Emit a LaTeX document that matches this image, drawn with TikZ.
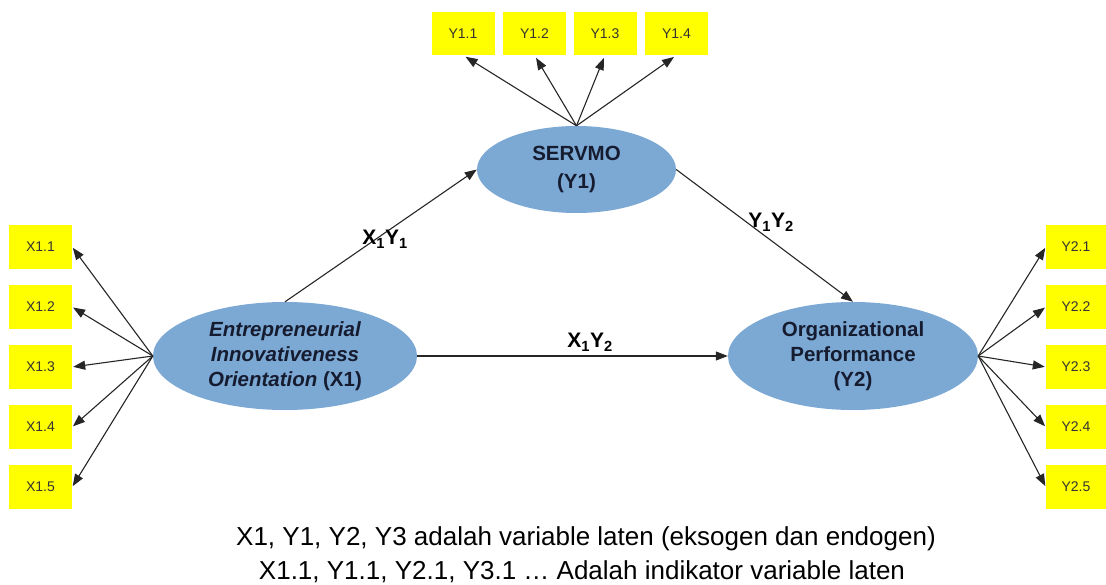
\documentclass[tikz,border=0pt]{standalone}
\usepackage{fontspec}
\setmainfont{Liberation Sans}
\usetikzlibrary{shapes.geometric,arrows.meta}
\definecolor{ellblue}{RGB}{124,168,212}
\definecolor{indyel}{RGB}{255,255,0}
\definecolor{elltext}{RGB}{22,28,48}
\begin{document}
\begin{tikzpicture}[x=1pt,y=-1pt,
  ind/.style={fill=indyel, minimum width=63pt, minimum height=44pt, inner sep=0pt,
    font=\fontsize{14}{16}\selectfont, text=black!80},
  lat/.style={ellipse, fill=ellblue, inner sep=0pt, align=center, text=elltext,
    font=\fontsize{20.5}{25}\selectfont\bfseries},
  arr/.style={-{Triangle[length=12pt,width=9pt]}, line width=1.1pt, draw=black!85, shorten >=1pt},
  pathlbl/.style={font=\fontsize{21}{24}\selectfont\bfseries, anchor=base, inner sep=0pt},
  note/.style={font=\fontsize{26}{30}\selectfont, anchor=base, inner sep=0pt}]
\useasboundingbox (0,0) rectangle (1106,585);

% latent variables
\node[lat, minimum width=264pt, minimum height=108pt] (x1) at (285,356)
  {\itshape Entrepreneurial\\ \itshape Innovativeness\\ {\itshape Orientation} (X1)};
\node[lat, minimum width=199pt, minimum height=87pt, font=\fontsize{20.5}{28}\selectfont\bfseries] (srv) at (576.5,169.5)
  {SERVMO\\(Y1)};
\node[lat, minimum width=250pt, minimum height=108pt] (y2) at (853,356)
  {Organizational\\Performance\\(Y2)};

% indicators X1
\foreach \i/\yy in {1/247,2/307,3/367,4/427,5/487}
  \node[ind] (xb\i) at (40.5,\yy) {X1.\i};
% indicators Y1
\foreach \i/\xx in {1/463,2/534.5,3/605,4/676.5}
  \node[ind, minimum height=43pt] (yb\i) at (\xx,33.5) {Y1.\i};
% indicators Y2
\foreach \i/\yy in {1/247,2/307,3/367,4/427,5/487}
  \node[ind, minimum width=60pt] (zb\i) at (1076,\yy) {Y2.\i};

% indicator arrows
\foreach \i in {1,...,5} \draw[arr] (x1.west) -- (xb\i.east);
\foreach \i in {1,...,4} \draw[arr, shorten >=3pt] (srv.north) -- (yb\i.south);
\foreach \i in {1,...,5} \draw[arr] (y2.east) -- (zb\i.west);

% structural paths
\draw[arr, shorten >=0pt] (x1.north) -- (srv.west);
\draw[arr, shorten >=0pt] (srv.east) -- (y2.north);
\draw[arr, shorten >=0pt] (x1.east) -- (y2.west);

% path labels
\node[pathlbl] (l1) at (385,245) {X\textsubscript{1}Y\textsubscript{1}};
\node[pathlbl] (l2) at (590,348) {X\textsubscript{1}Y\textsubscript{2}};
\node[pathlbl] (l3) at (771,228) {Y\textsubscript{1}Y\textsubscript{2}};

% notes
\node[note] (n1) at (586,545) {X1, Y1, Y2, Y3 adalah variable laten (eksogen dan endogen)};
\node[note] (n2) at (582,579) {X1.1, Y1.1, Y2.1, Y3.1 … Adalah indikator variable laten};
\end{tikzpicture}
\end{document}
